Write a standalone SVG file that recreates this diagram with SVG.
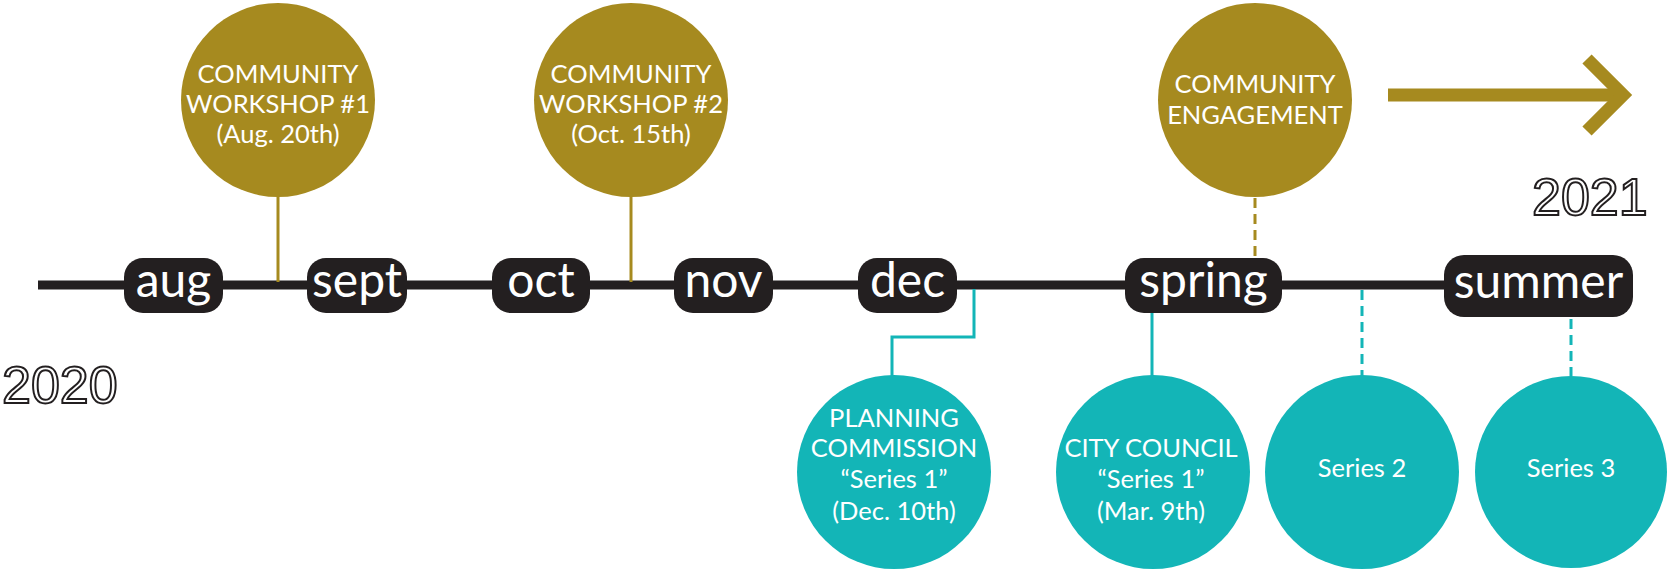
<svg xmlns="http://www.w3.org/2000/svg" width="1667" height="570" viewBox="0 0 1667 570">
  <style>
    .bg { fill: #ffffff; }
    .gold { fill: #a68a1f; }
    .teal { fill: #13b5b7; }
    .pill { fill: #231f20; }
    .month { font-family: Lato, "Noto Sans", sans-serif; font-size: 48px; fill: #ffffff; text-anchor: middle; }
    .label { font-family: Lato, "Noto Sans", sans-serif; font-size: 25.5px; fill: #ffffff; text-anchor: middle; }
    .year { font-family: "Liberation Sans", Arial, sans-serif; font-size: 52px; fill: #ffffff; stroke: #231f20; stroke-width: 2px; }
    .spine { stroke: #231f20; stroke-width: 9; fill: none; }
    .gold-line { stroke: #a68a1f; stroke-width: 3; fill: none; }
    .gold-dash { stroke: #a68a1f; stroke-width: 3; fill: none; stroke-dasharray: 10 6; }
    .teal-line { stroke: #13b5b7; stroke-width: 3; fill: none; }
    .teal-dash { stroke: #13b5b7; stroke-width: 3; fill: none; stroke-dasharray: 10 6; }
  </style>

  <rect class="bg" x="0" y="0" width="1667" height="570"/>

  <!-- connectors -->
  <g id="connectors">
    <line class="spine" x1="38" y1="285" x2="1450" y2="285"/>
    <line class="gold-line" x1="278" y1="196" x2="278" y2="282"/>
    <line class="gold-line" x1="631" y1="196" x2="631" y2="282"/>
    <line class="gold-dash" x1="1255" y1="198" x2="1255" y2="258"/>
    <polyline class="teal-line" points="974,289 974,337 892,337 892,376"/>
    <line class="teal-line" x1="1152" y1="313" x2="1152" y2="376"/>
    <line class="teal-dash" x1="1362" y1="290" x2="1362" y2="376"/>
    <line class="teal-dash" x1="1571" y1="319" x2="1571" y2="376"/>
    <!-- arrow toward next year -->
    <line x1="1388" y1="95" x2="1620" y2="95" stroke="#a68a1f" stroke-width="13"/>
    <polyline points="1587,59 1623,95 1587,131" fill="none" stroke="#a68a1f" stroke-width="13" stroke-miterlimit="10"/>
  </g>

  <!-- month markers -->
  <g id="aug"><rect class="pill" x="124" y="258" width="99" height="55" rx="19"/><text class="month" x="173.5" y="297">aug</text></g>
  <g id="sept"><rect class="pill" x="307" y="258" width="100" height="55" rx="19"/><text class="month" x="357" y="297">sept</text></g>
  <g id="oct"><rect class="pill" x="492" y="258" width="98" height="55" rx="19"/><text class="month" x="541" y="297">oct</text></g>
  <g id="nov"><rect class="pill" x="674" y="258" width="99" height="55" rx="19"/><text class="month" x="723.5" y="297">nov</text></g>
  <g id="dec"><rect class="pill" x="858" y="258" width="99" height="55" rx="19"/><text class="month" x="907.5" y="297">dec</text></g>
  <g id="spring"><rect class="pill" x="1125" y="258" width="157" height="55" rx="19"/><text class="month" x="1203.5" y="297">spring</text></g>
  <g id="summer"><rect class="pill" x="1444" y="255" width="189" height="62" rx="20"/><text class="month" x="1538.5" y="298">summer</text></g>

  <!-- community events -->
  <g id="workshop1">
    <circle class="gold" cx="278" cy="100" r="97"/>
    <text class="label" x="278" y="83">COMMUNITY</text>
    <text class="label" x="278" y="113">WORKSHOP #1</text>
    <text class="label" x="278" y="143">(Aug. 20th)</text>
  </g>
  <g id="workshop2">
    <circle class="gold" cx="631" cy="100" r="97"/>
    <text class="label" x="631" y="83">COMMUNITY</text>
    <text class="label" x="631" y="113">WORKSHOP #2</text>
    <text class="label" x="631" y="143">(Oct. 15th)</text>
  </g>
  <g id="engagement">
    <circle class="gold" cx="1255" cy="100" r="97"/>
    <text class="label" x="1255" y="93">COMMUNITY</text>
    <text class="label" x="1255" y="124">ENGAGEMENT</text>
  </g>

  <!-- hearings -->
  <g id="planning-commission">
    <circle class="teal" cx="894" cy="472" r="97"/>
    <text class="label" x="894" y="427">PLANNING</text>
    <text class="label" x="894" y="457">COMMISSION</text>
    <text class="label" x="894" y="488">“Series 1”</text>
    <text class="label" x="894" y="520">(Dec. 10th)</text>
  </g>
  <g id="city-council">
    <circle class="teal" cx="1153" cy="472" r="97"/>
    <text class="label" x="1151" y="457">CITY COUNCIL</text>
    <text class="label" x="1151" y="488">“Series 1”</text>
    <text class="label" x="1151" y="520">(Mar. 9th)</text>
  </g>
  <g id="series2">
    <circle class="teal" cx="1362" cy="472" r="97"/>
    <text class="label" x="1362" y="477">Series 2</text>
  </g>
  <g id="series3">
    <circle class="teal" cx="1571" cy="472" r="96"/>
    <text class="label" x="1571" y="477">Series 3</text>
  </g>

  <!-- years -->
  <g id="year-2020"><text class="year" x="2" y="403">2020</text></g>
  <g id="year-2021"><text class="year" x="1532" y="215">2021</text></g>
</svg>
